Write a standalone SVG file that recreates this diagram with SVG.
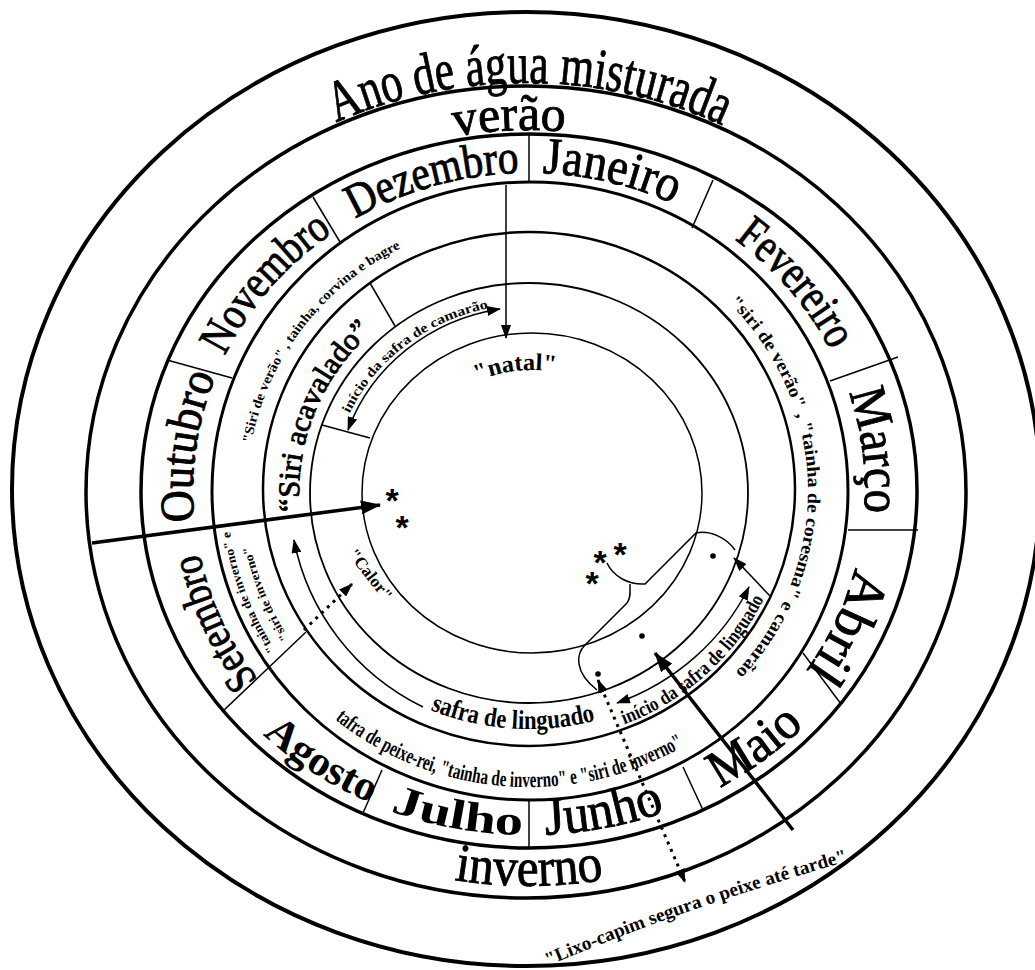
<svg xmlns="http://www.w3.org/2000/svg" width="1035" height="970" viewBox="0 0 1035 970">
<defs>
<style>
.ring{fill:none;stroke:#000}
.div{stroke:#000;stroke-width:1.5;fill:none}
.arr{stroke:#000;stroke-width:1.5;fill:none}
.dot{stroke:#000;stroke-width:3;stroke-dasharray:3 5;fill:none}
.thick{stroke:#000;stroke-width:3.5;fill:none}
text{font-family:"Liberation Serif","Times New Roman",serif;fill:#000}
.b{font-weight:bold}
.hv{stroke:#000;stroke-width:0.9}
.ast{font-family:"Liberation Sans",Arial,sans-serif;font-weight:bold;font-size:34px}
</style>
<marker id="ah" viewBox="0 0 14 10" refX="13" refY="5" markerWidth="14" markerHeight="10" markerUnits="userSpaceOnUse" orient="auto-start-reverse"><path d="M0,0L14,5L0,10z" fill="#000" stroke="none"/></marker>
<marker id="ahb" viewBox="0 0 20 14" refX="19" refY="7" markerWidth="20" markerHeight="14" markerUnits="userSpaceOnUse" orient="auto"><path d="M0,0L20,7L0,14z" fill="#000" stroke="none"/></marker>
<path id="pAno" d="M144.3,284.4 A443,409 0 0 1 911.6,290.6"/>
<path id="pVerao" d="M177,327.1 A395,361 0 0 1 860.3,294.4"/>
<path id="pInverno" d="M158.4,689 A428,394 0 0 0 899.6,689"/>
<path id="pLixo" d="M548,966 Q690,905 870,855"/>
<path id="pDez" d="M201.6,419.5 A336,318 0 0 1 758.2,258.4"/>
<path id="pJan" d="M288.9,268.5 A336,318 0 0 1 852.6,405.5"/>
<path id="pFev" d="M481.1,176.2 A336,318 0 0 1 841,609.1"/>
<path id="pMar" d="M661.4,198.7 A336,318 0 0 1 730.3,745.6"/>
<path id="pAbr" d="M798.4,301 A336,318 0 0 1 568.2,806.8"/>
<path id="pSet" d="M488,806.6 A336,318 0 0 1 260.7,299.6"/>
<path id="pOut" d="M324.4,743.3 A336,318 0 0 1 400.4,197.2"/>
<path id="pNov" d="M216.2,607 A336,318 0 0 1 579.2,176.6"/>
<path id="pMai" d="M403.2,815.3 A377,344 0 0 0 899.7,428.3"/>
<path id="pJun" d="M251.5,723.9 A377,344 0 0 0 888.7,593.9"/>
<path id="pJul" d="M170.4,597.3 A377,344 0 0 0 809.2,721.2"/>
<path id="pAgo" d="M154.6,450.9 A377,344 0 0 0 678.1,806.9"/>
<path id="pSiriV" d="M271.4,602 A282,273 0 0 1 558.5,219.5"/>
<path id="pSiriR" d="M664.3,254.9 A279,270 0 0 1 672.7,722.4"/>
<path id="pTinv1" d="M476.6,779.5 A302,293 0 0 1 297.7,302.7"/>
<path id="pTinv2" d="M487,763 A284,275 0 0 1 306.7,319.8"/>
<path id="pTafra" d="M253.7,618.4 A305,296 0 0 0 780.4,658.7"/>
<path id="pAcav" d="M351.3,633.3 A230,221 0 0 1 491.4,275"/>
<path id="pSafra" d="M325.1,630.9 A252,238 0 0 0 710.3,656.3"/>
<path id="pIniL" d="M499.6,740.4 A260,251 0 0 0 788.5,475.7"/>
<path id="pIniC" d="M333.7,523.9 A199,189 0 0 1 600,316.1"/>
<path id="pNatal" d="M422.4,426.9 A130,123 0 0 1 619.8,402.3"/>
</defs>
<rect width="1035" height="970" fill="#fff"/>

<g id="rings">
<ellipse class="ring" cx="526" cy="489" rx="514" ry="477" stroke-width="4"/>
<ellipse class="ring" cx="526" cy="492" rx="440" ry="406" stroke-width="3.5"/>
<ellipse class="ring" cx="529" cy="491" rx="388" ry="357" stroke-width="3.5"/>
<ellipse class="ring" cx="530" cy="491" rx="318" ry="309" stroke-width="3"/>
<ellipse class="ring" cx="529" cy="489" rx="266" ry="257" stroke-width="2.5"/>
<ellipse class="ring" cx="529" cy="493" rx="219" ry="210" stroke-width="1.8"/>
<ellipse class="ring" cx="532" cy="493" rx="170" ry="160" stroke-width="1.5"/>
</g>

<g id="dividers">
<line class="div" x1="529" y1="135" x2="529" y2="183"/>
<line class="div" x1="713" y1="180" x2="692" y2="228"/>
<line class="div" x1="898" y1="357" x2="830" y2="381"/>
<line class="div" x1="848" y1="530" x2="918" y2="530"/>
<line class="div" x1="803" y1="653" x2="841" y2="704"/>
<line class="div" x1="683" y1="767" x2="703" y2="810"/>
<line class="div" x1="529" y1="800" x2="529" y2="847"/>
<line class="div" x1="382" y1="770" x2="363" y2="813"/>
<line class="div" x1="222" y1="712" x2="306" y2="632"/>
<line class="div" x1="167" y1="360" x2="232" y2="378"/>
<line class="div" x1="313" y1="197" x2="340" y2="242"/>
<line class="div" x1="370" y1="283" x2="395" y2="326"/>
<line class="div" x1="322" y1="425" x2="370" y2="438"/>
</g>

<g id="title">
<text class="hv" font-size="58" text-anchor="middle"><textPath href="#pAno" startOffset="50%" textLength="398" lengthAdjust="spacingAndGlyphs">Ano de água misturada</textPath></text>
</g>
<g id="verao">
<text class="hv" font-size="50" text-anchor="middle"><textPath href="#pVerao" startOffset="50%" textLength="111" lengthAdjust="spacingAndGlyphs">verão</textPath></text>
</g>
<g id="inverno">
<text class="hv" font-size="54" text-anchor="middle"><textPath href="#pInverno" startOffset="50%" textLength="150" lengthAdjust="spacingAndGlyphs">inverno</textPath></text>
</g>

<g id="month-dezembro"><text class="hv" font-size="48" text-anchor="middle"><textPath href="#pDez" startOffset="50%" textLength="172" lengthAdjust="spacingAndGlyphs">Dezembro</textPath></text></g>
<g id="month-janeiro"><text class="hv" font-size="52" text-anchor="middle"><textPath href="#pJan" startOffset="50%" textLength="135" lengthAdjust="spacingAndGlyphs">Janeiro</textPath></text></g>
<g id="month-fevereiro"><text class="hv" font-size="48" text-anchor="middle"><textPath href="#pFev" startOffset="50%" textLength="148" lengthAdjust="spacingAndGlyphs">Fevereiro</textPath></text></g>
<g id="month-marco"><text class="hv" font-size="52" text-anchor="middle"><textPath href="#pMar" startOffset="50%" textLength="122" lengthAdjust="spacingAndGlyphs">Março</textPath></text></g>
<g id="month-abril"><text class="hv" font-size="54" text-anchor="middle"><textPath href="#pAbr" startOffset="50%" textLength="115" lengthAdjust="spacingAndGlyphs">Abril</textPath></text></g>
<g id="month-maio"><text class="hv" font-size="52" text-anchor="middle"><textPath href="#pMai" startOffset="50%" textLength="105" lengthAdjust="spacingAndGlyphs">Maio</textPath></text></g>
<g id="month-junho"><text class="hv" font-size="54" text-anchor="middle"><textPath href="#pJun" startOffset="50%" textLength="122" lengthAdjust="spacingAndGlyphs">Junho</textPath></text></g>
<g id="month-julho"><text class="b" font-size="42" text-anchor="middle"><textPath href="#pJul" startOffset="50%" textLength="135" lengthAdjust="spacingAndGlyphs">Julho</textPath></text></g>
<g id="month-agosto"><text class="b" font-size="42" text-anchor="middle"><textPath href="#pAgo" startOffset="50%" textLength="128" lengthAdjust="spacingAndGlyphs">Agosto</textPath></text></g>
<g id="month-setembro"><text class="hv" font-size="44" text-anchor="middle"><textPath href="#pSet" startOffset="50%" textLength="140" lengthAdjust="spacingAndGlyphs">Setembro</textPath></text></g>
<g id="month-outubro"><text class="hv" font-size="48" text-anchor="middle"><textPath href="#pOut" startOffset="50%" textLength="148" lengthAdjust="spacingAndGlyphs">Outubro</textPath></text></g>
<g id="month-novembro"><text class="hv" font-size="46" text-anchor="middle"><textPath href="#pNov" startOffset="50%" textLength="165" lengthAdjust="spacingAndGlyphs">Novembro</textPath></text></g>

<g id="label-siri-verao-left"><text class="b" font-size="13.5" text-anchor="middle"><textPath href="#pSiriV" startOffset="50%" textLength="255" lengthAdjust="spacingAndGlyphs">"Siri de verão" , tainha, corvina e bagre</textPath></text></g>
<g id="label-siri-verao-right"><text class="b" font-size="18" text-anchor="middle"><textPath href="#pSiriR" startOffset="50%" textLength="410" lengthAdjust="spacingAndGlyphs">"siri de verão" , "tainha de coresma" e camarão</textPath></text></g>
<g id="label-tainha-inverno">
<text class="b" font-size="12.5" text-anchor="middle"><textPath href="#pTinv1" startOffset="50%" textLength="128" lengthAdjust="spacingAndGlyphs">"tainha de inverno" e</textPath></text>
<text class="b" font-size="12.5" text-anchor="middle"><textPath href="#pTinv2" startOffset="50%" textLength="100" lengthAdjust="spacingAndGlyphs">"siri de inverno"</textPath></text>
</g>
<g id="label-tafra"><text class="b" font-size="22" text-anchor="middle"><textPath href="#pTafra" startOffset="50%" textLength="372" lengthAdjust="spacingAndGlyphs">tafra de peixe-rei, "tainha de inverno" e "siri de inverno"</textPath></text></g>
<g id="label-acavalado"><text class="hv" font-size="30" text-anchor="middle"><textPath href="#pAcav" startOffset="50%" textLength="200" lengthAdjust="spacingAndGlyphs">“Siri acavalado”</textPath></text></g>
<g id="label-safra-linguado"><text class="b" font-size="27" text-anchor="middle"><textPath href="#pSafra" startOffset="50%" textLength="168" lengthAdjust="spacingAndGlyphs">safra de linguado</textPath></text></g>
<g id="label-inicio-linguado"><text class="b" font-size="20" text-anchor="middle"><textPath href="#pIniL" startOffset="50%" textLength="192" lengthAdjust="spacingAndGlyphs">início da safra de linguado</textPath></text></g>
<g id="label-inicio-camarao"><text class="b" font-size="13.5" text-anchor="middle"><textPath href="#pIniC" startOffset="50%" textLength="180" lengthAdjust="spacingAndGlyphs">início da safra de camarão</textPath></text></g>
<g id="label-natal"><text class="b" font-size="24" text-anchor="middle"><textPath href="#pNatal" startOffset="50%" textLength="80" lengthAdjust="spacingAndGlyphs">"natal"</textPath></text></g>
<g id="label-calor"><text class="b" font-size="17" text-anchor="middle" transform="translate(366,578) rotate(52)">"Calor"</text></g>
<g id="label-lixo"><text class="b" font-size="19"><textPath href="#pLixo" startOffset="0" textLength="318" lengthAdjust="spacingAndGlyphs">"Lixo-capim segura o peixe até tarde"</textPath></text></g>

<g id="marks">
<text class="ast" x="392" y="512" text-anchor="middle">*</text>
<text class="ast" x="402" y="539" text-anchor="middle">*</text>
<text class="ast" x="592" y="595" text-anchor="middle">*</text>
<text class="ast" x="600" y="574" text-anchor="middle">*</text>
<text class="ast" x="620" y="566" text-anchor="middle">*</text>
<circle cx="713" cy="556" r="2.8"/>
<circle cx="642" cy="636" r="2.8"/>
<circle cx="598" cy="674" r="2.8"/>
</g>

<g id="connectors">
<line class="arr" x1="506" y1="185" x2="506" y2="338" marker-end="url(#ah)"/>
<path class="arr" d="M348,430 A194,184 0 0 1 500,309" marker-start="url(#ah)" marker-end="url(#ah)"/>
<path class="arr" d="M423,707 A242,236 0 0 1 294,540" marker-end="url(#ah)"/>
<path class="arr" d="M617,703 A238,230 0 0 0 749,587" marker-start="url(#ah)" marker-end="url(#ah)"/>
<line class="thick" x1="92" y1="543" x2="380" y2="505" marker-end="url(#ahb)"/>
<line class="thick" x1="793" y1="830" x2="655" y2="653" marker-end="url(#ahb)"/>
<line class="dot" x1="304" y1="630" x2="352" y2="584" marker-end="url(#ah)"/>
<line class="dot" x1="598" y1="680" x2="685" y2="882" marker-start="url(#ah)" marker-end="url(#ah)"/>
<line class="arr" x1="770" y1="596" x2="734" y2="558" marker-end="url(#ah)"/>
<path class="arr" d="M607,563 C613,576 628,585 645,584 L696,533 C710,530 727,538 735,550"/>
<path class="arr" d="M630,584 C630,592 631,598 627,603 L585,645 C576,654 574,672 597,690"/>
</g>
</svg>
